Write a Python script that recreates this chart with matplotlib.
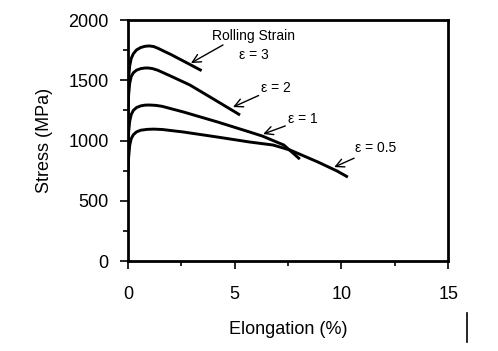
import matplotlib
matplotlib.use('Agg')
import matplotlib.pyplot as plt
from matplotlib.ticker import MultipleLocator
from matplotlib.lines import Line2D

plt.rcParams['font.family'] = ['Liberation Sans', 'DejaVu Sans']

# Кривые напряжение-удлинение
e3_x = [0.0, 0.03, 0.08, 0.15, 0.25, 0.4, 0.6, 0.8, 1.0, 1.2, 1.4, 1.7, 2.0, 2.7, 3.45]
e3_y = [1350, 1520, 1620, 1680, 1720, 1752, 1772, 1782, 1785, 1780, 1766, 1740, 1715, 1650, 1580]

e2_x = [0.0, 0.03, 0.08, 0.15, 0.25, 0.4, 0.6, 0.8, 0.95, 1.15, 1.4, 2.0, 2.9, 4.0, 5.1, 5.25]
e2_y = [1200, 1380, 1475, 1530, 1562, 1584, 1597, 1602, 1602, 1597, 1583, 1535, 1461, 1345, 1228, 1212]

e1_x = [0.0, 0.03, 0.08, 0.15, 0.25, 0.4, 0.6, 0.8, 1.0, 1.3, 1.6, 2.6, 4.2, 5.7, 6.3, 7.3, 8.05]
e1_y = [900, 1070, 1160, 1215, 1250, 1274, 1288, 1294, 1295, 1292, 1284, 1237, 1154, 1071, 1037, 963, 846]

e05_x = [0.0, 0.03, 0.08, 0.15, 0.25, 0.4, 0.6, 0.9, 1.2, 1.6, 2.6, 4.2, 5.7, 6.8, 7.6, 8.9, 9.8, 10.3]
e05_y = [720, 860, 960, 1015, 1048, 1072, 1086, 1093, 1095, 1092, 1071, 1029, 988, 963, 921, 822, 747, 697]

fig = plt.figure(figsize=(4.98, 3.51), dpi=100)
ax = fig.add_axes([0.257, 0.256, 0.643, 0.687])

for xs, ys in [(e3_x, e3_y), (e2_x, e2_y), (e1_x, e1_y), (e05_x, e05_y)]:
    ax.plot(xs, ys, color='black', lw=2.1, solid_capstyle='butt')

ax.set_xlim(0, 15)
ax.set_ylim(0, 2000)
ax.xaxis.set_major_locator(MultipleLocator(5))
ax.xaxis.set_minor_locator(MultipleLocator(2.5))
ax.yaxis.set_major_locator(MultipleLocator(500))
ax.yaxis.set_minor_locator(MultipleLocator(250))
ax.tick_params(which='major', length=6, width=1.2, labelsize=13)
ax.tick_params(which='minor', length=3.5, width=1.2)
ax.tick_params(axis='x', which='major', pad=12)
ax.tick_params(axis='y', which='major', pad=8)
for s in ax.spines.values():
    s.set_linewidth(2.0)

ax.set_xlabel('Elongation (%)', fontsize=13, labelpad=13)
ax.set_ylabel('Stress (MPa)', fontsize=13, labelpad=11)

arr = dict(arrowstyle='->,head_length=0.6,head_width=0.3', color='black',
           lw=1.0, shrinkA=0, shrinkB=0)
ax.text(5.9, 1870, 'Rolling Strain', fontsize=10, ha='center', va='center')
ax.annotate('ε = 3', xy=(2.95, 1643), xytext=(5.9, 1710), fontsize=10,
            ha='center', va='center')
ax.annotate('', xy=(2.95, 1643), xytext=(4.45, 1793), arrowprops=arr)
ax.annotate('ε = 2', xy=(4.92, 1278), xytext=(6.25, 1440), fontsize=10,
            ha='left', va='center', arrowprops=arr)
ax.annotate('ε = 1', xy=(6.33, 1054), xytext=(7.5, 1175), fontsize=10,
            ha='left', va='center', arrowprops=arr)
ax.annotate('ε = 0.5', xy=(9.66, 780), xytext=(10.65, 935), fontsize=10,
            ha='left', va='center', arrowprops=arr)

fig.add_artist(Line2D([0.938, 0.938], [0.026, 0.108], color='black', lw=1.2))

fig.savefig('out.png', dpi=100)
